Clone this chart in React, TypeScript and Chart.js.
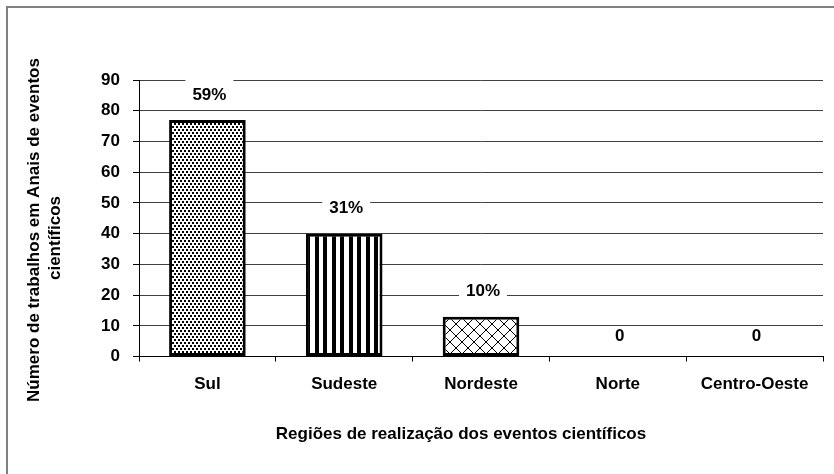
import React, { useEffect, useRef } from "react";
import { Chart, registerables } from "chart.js";

Chart.register(...registerables);

const categories = ["Sul", "Sudeste", "Nordeste", "Norte", "Centro-Oeste"];
const values = [77, 40, 13, 0, 0];
const valueLabels = ["59%", "31%", "10%", "0", "0"];
const yTitleLines = ["Número de trabalhos em Anais de eventos", "científicos"];
const xTitle = "Regiões de realização dos eventos científicos";

const FONT = "'Liberation Sans', Arial, sans-serif";

function makePattern(kind: string): CanvasPattern | string {
  const c = document.createElement("canvas");
  const g = c.getContext("2d")!;
  if (kind === "dots") {
    c.width = 4; c.height = 6;
    g.fillStyle = "#fff"; g.fillRect(0, 0, 4, 6);
    g.fillStyle = "#000";
    g.fillRect(0, 0, 2, 2);
    g.fillRect(2, 3, 2, 2);
  } else if (kind === "stripes") {
    c.width = 17; c.height = 4;
    g.fillStyle = "#fff"; g.fillRect(0, 0, 17, 4);
    g.fillStyle = "#000";
    g.fillRect(0, 0, 4, 4);
    g.fillRect(9, 0, 4, 4);
  } else {
    c.width = 12; c.height = 12;
    g.fillStyle = "#fff"; g.fillRect(0, 0, 12, 12);
    g.strokeStyle = "#000"; g.lineWidth = 1;
    g.beginPath();
    g.moveTo(0, 0); g.lineTo(12, 12);
    g.moveTo(12, 0); g.lineTo(0, 12);
    g.stroke();
  }
  const p = g.createPattern(c, "repeat");
  return p || "#fff";
}

export default function App() {
  const ref = useRef<HTMLCanvasElement | null>(null);
  useEffect(() => {
    const canvas = ref.current!;
    const fills = [makePattern("dots"), makePattern("stripes"), makePattern("cross"), "#fff", "#fff"];

    const decor = {
      id: "decor",
      beforeDraw(chart: any) {
        const ctx = chart.ctx;
        ctx.save();
        ctx.fillStyle = "#fff";
        ctx.fillRect(0, 0, chart.width, chart.height);
        ctx.strokeStyle = "#808080";
        ctx.lineWidth = 2;
        ctx.beginPath();
        ctx.moveTo(7, 480);
        ctx.lineTo(7, 7);
        ctx.lineTo(840, 7);
        ctx.stroke();
        ctx.restore();
      },
      afterDraw(chart: any) {
        const ctx = chart.ctx;
        const meta = chart.getDatasetMeta(0);
        ctx.save();
        ctx.font = `bold 17px ${FONT}`;
        ctx.textAlign = "center";
        ctx.textBaseline = "middle";
        meta.data.forEach((bar: any, i: number) => {
          const v = values[i];
          const x = bar.x + 2;
          const y = bar.y - (v > 0 ? 25 : 20);
          if (v > 0) {
            ctx.fillStyle = "#fff";
            ctx.fillRect(x - 24, y - 15, 48, 27);
          }
          ctx.fillStyle = "#000";
          ctx.fillText(valueLabels[i], x, y);
        });
        // axis titles
        ctx.fillStyle = "#000";
        ctx.fillText(xTitle, 461, 434);
        ctx.translate(0, 230);
        ctx.rotate(-Math.PI / 2);
        ctx.fillText(yTitleLines[0], 0, 34);
        ctx.fillText(yTitleLines[1], -8, 55);
        ctx.restore();
      },
    };

    const chart = new Chart(canvas, {
      type: "bar",
      data: {
        labels: categories,
        datasets: [
          {
            data: values,
            backgroundColor: fills as any,
            borderColor: "#000",
            borderWidth: 3,
            borderSkipped: false,
            categoryPercentage: 1,
            barPercentage: 0.56,
          },
        ],
      },
      options: {
        responsive: false,
        animation: false,
        devicePixelRatio: 1,
        layout: { padding: { top: 80, right: 11, bottom: 66, left: 0 } },
        plugins: { legend: { display: false }, tooltip: { enabled: false } },
        scales: {
          y: {
            min: 0,
            max: 90,
            ticks: {
              stepSize: 10,
              color: "#000",
              padding: 13,
              font: { family: FONT, size: 17, weight: "bold" },
            },
            grid: { color: "#404040", lineWidth: 1, tickLength: 6, tickColor: "#000" },
            border: { color: "#000", width: 1 },
            afterFit(scale: any) { scale.width = 139; },
          },
          x: {
            ticks: {
              color: "#000",
              padding: 13,
              font: { family: FONT, size: 17, weight: "bold" },
            },
            grid: { drawOnChartArea: false, tickLength: 5, color: "#000", offset: true },
            border: { color: "#000", width: 1 },
          },
        },
      },
      plugins: [decor],
    });
    return () => chart.destroy();
  }, []);

  return (
    <div style={{ position: "fixed", left: 0, top: 0, width: 834, height: 474, background: "#fff" }}>
      <canvas ref={ref} width={834} height={474} style={{ display: "block" }} />
    </div>
  );
}
